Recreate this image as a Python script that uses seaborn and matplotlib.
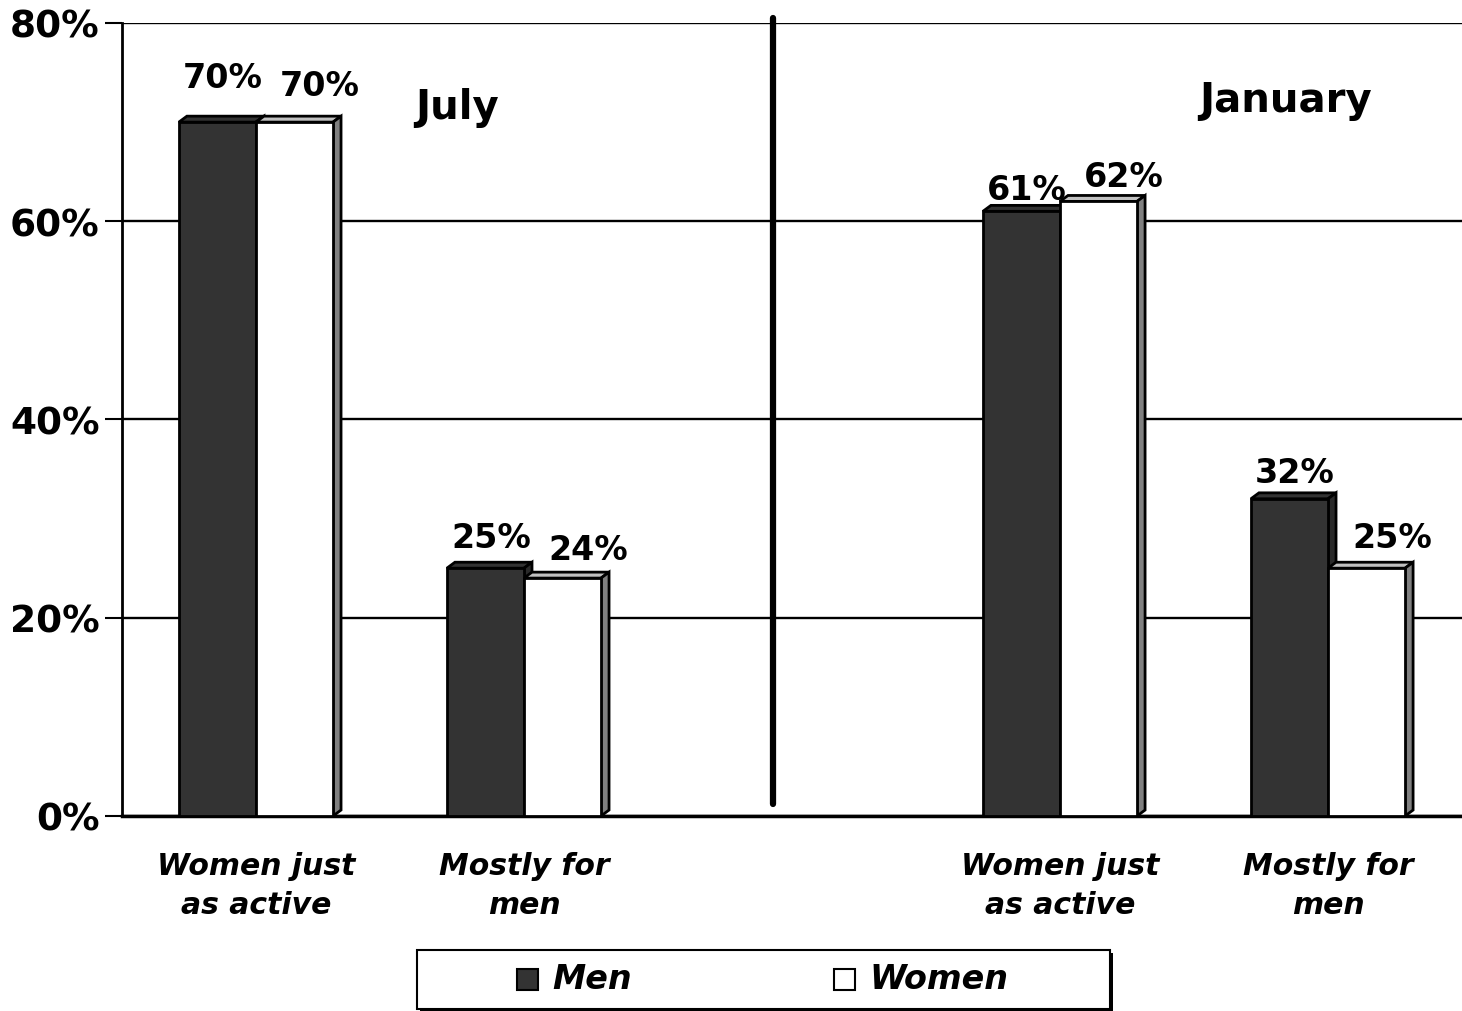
import pandas as pd
import numpy as np
import matplotlib.pyplot as plt
import matplotlib.patches as mpatches
import seaborn as sns

# Donnees
slots = ["jul_active", "jul_men", "gap", "jan_active", "jan_men"]
tick_labels = ["Women just\nas active", "Mostly for\nmen", "", "Women just\nas active", "Mostly for\nmen"]
men = [70, 25, 61, 32]
women = [70, 24, 62, 25]
bar_slots = ["jul_active", "jul_men", "jan_active", "jan_men"]
periods = ["July", "January"]
series = ["Men", "Women"]

df = pd.DataFrame({
    "slot": bar_slots * 2,
    "sexe": ["Men"] * 4 + ["Women"] * 4,
    "valeur": men + women,
})

sns.set_style("white")
plt.rcParams["font.family"] = ["DejaVu Sans"]
plt.rcParams["text.color"] = "black"
plt.rcParams["xtick.color"] = "black"
plt.rcParams["ytick.color"] = "black"

fig = plt.figure(figsize=(14.62, 10.12), dpi=100)
ax = fig.add_axes([0.0834, 0.1927, 0.9166, 0.7836])

front = {"Men": "#333333", "Women": "#ffffff"}
top_col = {"Men": "#333333", "Women": "#c0c0c0"}
side_col = {"Men": "#2a2a2a", "Women": "#808080"}

sns.barplot(data=df, x="slot", y="valeur", hue="sexe", order=slots,
            hue_order=series, palette=front, width=0.575,
            edgecolor="black", linewidth=2, ax=ax, legend=False, zorder=3)

ax.set_ylim(0, 80)
ax.set_xlim(-0.5, 4.5)

# decalage des etiquettes (comme sur l'original)
lab_dx = {"Men": 0.02, "Women": 0.095}
lab_dy = [3.5, 2.1, 1.2, 1.7, 2.7, 1.9, 1.6, 2.1]

# effet 3D : dessus et cote de chaque barre
dx, dy = 0.03, 0.6
for i, bar in enumerate(ax.patches):
    s = series[i // 4]
    x0, w, h = bar.get_x(), bar.get_width(), bar.get_height()
    x1 = x0 + w
    top = mpatches.Polygon([(x0, h), (x0 + dx, h + dy), (x1 + dx, h + dy), (x1, h)],
                           closed=True, fc=top_col[s], ec="black", lw=2, zorder=2.9)
    side = mpatches.Polygon([(x1, 0), (x1 + dx, dy), (x1 + dx, h + dy), (x1, h)],
                            closed=True, fc=side_col[s], ec="black", lw=2, zorder=2.9)
    ax.add_patch(top)
    ax.add_patch(side)
    ax.text(x0 + w / 2 + lab_dx[s], h + lab_dy[i], f"{h:.0f}%", ha="center", va="baseline",
            fontsize=24, fontweight="bold", zorder=5)

# grille et axes
ax.set_yticks([0, 20, 40, 60, 80])
ax.set_yticklabels([f"{v}%" for v in [0, 20, 40, 60, 80]], fontsize=27, fontweight="bold")
ax.yaxis.grid(True, color="black", lw=1.7, zorder=0)
ax.tick_params(axis="y", direction="out", length=12, width=1.5, left=True, pad=4)
ax.tick_params(axis="x", length=0, pad=25)
ax.set_xticks(range(5))
ax.set_xticklabels(tick_labels, fontsize=21.5, fontweight="bold", style="italic", linespacing=1.45)
ax.set_xlabel("")
ax.set_ylabel("")
for sp in ["top", "right"]:
    ax.spines[sp].set_visible(False)
ax.spines["left"].set_linewidth(2)
ax.spines["bottom"].set_linewidth(2.5)
ax.spines["left"].set_color("black")
ax.spines["bottom"].set_color("black")

# separateur entre les periodes
ax.plot([1.93, 1.93], [1.2, 80.5], color="black", lw=4.5, solid_capstyle="round",
        clip_on=False, zorder=4)

ax.text(0.75, 71.5, periods[0], ha="center", va="center", fontsize=29, fontweight="bold")
ax.text(3.84, 72.2, periods[1], ha="center", va="center", fontsize=29, fontweight="bold")

# legende dessinee a la main (cadre avec ombre noire)
W, H = 1462, 1012
fig.patches.append(mpatches.Rectangle((420 / W, 1 - 1013 / H), 693 / W, 59 / H,
                                      transform=fig.transFigure, fc="black", ec="none"))
fig.patches.append(mpatches.Rectangle((417 / W, 1 - 1010 / H), 693 / W, 59 / H,
                                      transform=fig.transFigure, fc="white", ec="black", lw=1.5))
for s, mx, tx in zip(series, [517, 834], [552, 869]):
    fig.patches.append(mpatches.Rectangle((mx / W, 1 - 991 / H), 21 / W, 21 / H,
                                          transform=fig.transFigure, fc=front[s],
                                          ec="black", lw=1.5))
    fig.text(tx / W, 1 - 980 / H, s, ha="left", va="center", fontsize=24,
             fontweight="bold", style="italic")

plt.savefig("out.png", dpi=100)
